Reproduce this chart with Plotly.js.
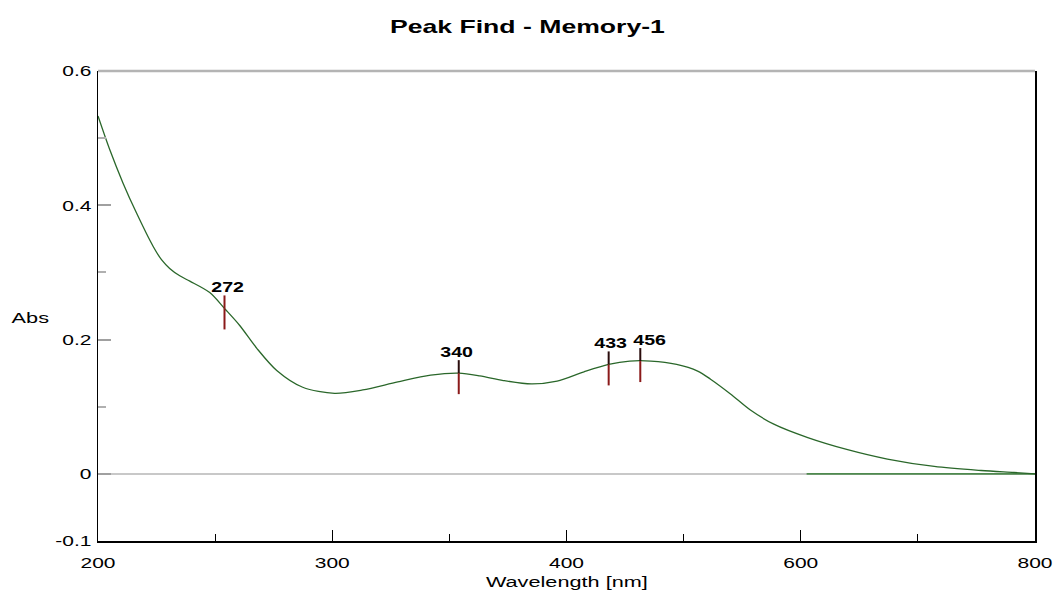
<!DOCTYPE html>
<html>
<head>
<meta charset="utf-8">
<script src="https://cdn.plot.ly/plotly-3.0.1.min.js"></script>
<style>html,body{margin:0;padding:0;background:#fff;}</style>
</head>
<body>
<div id="chart" style="width:1055px;height:592px;"></div>
<script>
// ---- data ----
const wavelength = [200,205,210.7,216.5,223.5,227.1,230.6,234.9,239.2,247.7,254.1,260.5,267.8,276.3,287.4,301,313,328,342,354,363,373,385,396,415,436,454,472,494,512,523,540,557,577,606,640,674,714,754,782,800];
const absorbance = [0.533,0.483,0.433,0.388,0.339,0.319,0.306,0.295,0.287,0.270,0.246,0.221,0.187,0.154,0.129,0.120,0.125,0.137,0.147,0.150,0.146,0.139,0.134,0.138,0.152,0.163,0.168,0.168,0.163,0.153,0.141,0.119,0.095,0.074,0.054,0.036,0.022,0.011,0.005,0.002,0.000];
const baselineWavelength = [605, 800];
const baselineAbs = [0, 0];
const peakWavelength = [254, 354, 436, 463];
const peakLabels = ['272', '340', '433', '456'];
const xTickWavelengths = [200, 300, 400, 600, 800];
const xTickLabels = ['200', '300', '400', '600', '800'];
const xMinorWavelengths = [250, 350, 500, 700];
const yTickVals = [-0.1, 0, 0.2, 0.4, 0.6];
const yTickLabels = ['-0.1', '0', '0.2', '0.4', '0.6'];
const yMinorVals = [0.1, 0.3, 0.5];

// ---- style config ----
const FONT = 'Liberation Sans, Arial, Helvetica, sans-serif';
const STRETCH = 1.4;
const labelXShift = [3, -2, 2, 10];

// piecewise axis of the instrument: 200-400 nm and 400-800 nm share equal widths per tick
function toAxis(w) { return w <= 400 ? (w - 200) / 100 : 2 + (w - 400) / 200; }
function curveAt(w) {
  for (let i = 0; i < wavelength.length - 1; i++) {
    if (w >= wavelength[i] && w <= wavelength[i + 1]) {
      const t = (w - wavelength[i]) / (wavelength[i + 1] - wavelength[i]);
      return absorbance[i] + t * (absorbance[i + 1] - absorbance[i]);
    }
  }
  return 0;
}

const traces = [
  {
    x: baselineWavelength.map(toAxis), y: baselineAbs, type: 'scatter', mode: 'lines',
    line: {color: '#4f8a4f', width: 1.6}, hoverinfo: 'skip', showlegend: false
  },
  {
    x: wavelength.map(toAxis), y: absorbance, type: 'scatter', mode: 'lines',
    line: {color: '#2a672a', width: 1.3, shape: 'spline', smoothing: 0.85}, showlegend: false
  }
];

const shapes = [
  {type: 'line', xref: 'paper', yref: 'paper', x0: 0, x1: 1, y0: 1, y1: 1,
   line: {color: '#b4b4b4', width: 2.5}}
];
const annotations = [];
peakWavelength.forEach((w, i) => {
  const a = curveAt(w);
  const xa = toAxis(w);
  shapes.push({type: 'line', xref: 'x', yref: 'y', x0: xa, x1: xa, ysizemode: 'pixel', yanchor: a,
               y0: 0, y1: 13, line: {color: i === 0 ? '#8b1a1a' : '#2a0c0c', width: 2}});
  shapes.push({type: 'line', xref: 'x', yref: 'y', x0: xa, x1: xa, ysizemode: 'pixel', yanchor: a,
               y0: -21, y1: 0, line: {color: '#8b1a1a', width: 2}});
  annotations.push({x: xa, y: a, xref: 'x', yref: 'y', text: peakLabels[i], showarrow: false,
                    xanchor: 'center', yanchor: 'middle', yshift: 21, xshift: labelXShift[i],
                    font: {family: FONT, size: 14, color: '#000', weight: 'bold'}});
});
annotations.push({x: (30.5 - 98) / 937, y: (541 - 317) / 470, xref: 'paper', yref: 'paper',
                  text: 'Abs', showarrow: false, xanchor: 'center', yanchor: 'middle',
                  font: {family: FONT, size: 15.5, color: '#000'}});
annotations.push({x: 0.5, y: (541 - 581) / 470, xref: 'paper', yref: 'paper',
                  text: 'Wavelength [nm]', showarrow: false, xanchor: 'center', yanchor: 'middle',
                  font: {family: FONT, size: 15.5, color: '#000'}});

const layout = {
  width: 1055, height: 592,
  margin: {l: 98, r: 20, t: 71, b: 51, pad: 0},
  paper_bgcolor: '#fff', plot_bgcolor: '#fff',
  showlegend: false,
  title: {text: 'Peak Find - Memory-1', x: 0.5, xref: 'container', xanchor: 'center',
          y: 1 - 26 / 592, yref: 'container', yanchor: 'middle',
          font: {family: FONT, size: 19, color: '#000', weight: 'bold'}},
  xaxis: {
    range: [0, 4], tickmode: 'array',
    tickvals: xTickWavelengths.map(toAxis), ticktext: xTickLabels,
    ticks: 'inside', ticklen: 11, tickwidth: 1, tickcolor: '#000',
    minor: {tickmode: 'array', tickvals: xMinorWavelengths.map(toAxis), ticks: 'inside', ticklen: 7, tickwidth: 1, tickcolor: '#000', showgrid: false},
    showline: true, linecolor: '#000', linewidth: 1.5,
    showgrid: false, zeroline: false, ticklabelstandoff: 8,
    tickfont: {family: FONT, size: 15, color: '#000'}, fixedrange: true
  },
  yaxis: {
    range: [-0.1, 0.6], tickmode: 'array', tickvals: yTickVals, ticktext: yTickLabels,
    ticks: 'inside', ticklen: 13, tickwidth: 2, tickcolor: '#a0a0a0',
    minor: {tickmode: 'array', tickvals: yMinorVals, ticks: 'inside', ticklen: 8, tickwidth: 2, tickcolor: '#b0b0b0', showgrid: false},
    showline: true, linecolor: '#000', linewidth: 1.5, mirror: true,
    showgrid: false, zeroline: true, zerolinecolor: '#c8c8c8', zerolinewidth: 1.5,
    ticklabelstandoff: 2,
    tickfont: {family: FONT, size: 15, color: '#000'}, fixedrange: true
  },
  shapes: shapes,
  annotations: annotations
};

function stretchText(gd, f) {
  gd.querySelectorAll('svg text').forEach(t => {
    if (!t.textContent.trim()) return;
    const bb = t.getBBox();
    const anchor = t.getAttribute('text-anchor') || 'start';
    let cx = bb.x + bb.width / 2;
    if (anchor === 'end') cx = bb.x + bb.width;
    else if (anchor === 'start') cx = bb.x;
    const prev = t.getAttribute('transform') || '';
    t.setAttribute('transform', prev + ' translate(' + cx + ',0) scale(' + f + ',1) translate(' + (-cx) + ',0)');
  });
}

const gd = document.getElementById('chart');
Plotly.newPlot(gd, traces, layout, {displayModeBar: false, staticPlot: true}).then(() => stretchText(gd, STRETCH));
</script>
</body>
</html>
